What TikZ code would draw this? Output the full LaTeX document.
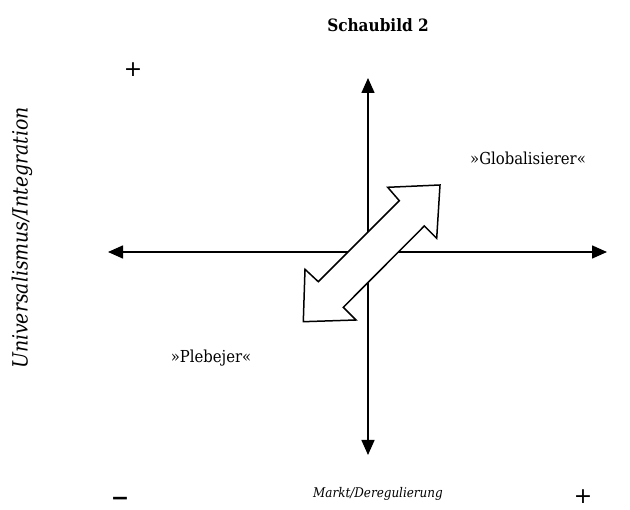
\documentclass[tikz,border=0pt]{standalone}
\usepackage{fontspec}
\setmainfont{DejaVu Serif Condensed}
\setsansfont{DejaVu Sans}
\usetikzlibrary{arrows.meta}
\begin{document}
\begin{tikzpicture}[x=1pt,y=-1pt]
\tikzstyle{axis} = [line width=1.5pt, {Triangle[length=15pt,width=13pt]}-{Triangle[length=15pt,width=13pt]}]
\tikzstyle{label} = [font=\fontsize{16.5}{19}\selectfont]
\tikzstyle{sign} = [font=\fontsize{22}{24}\selectfont\sffamily]
\useasboundingbox (0,0) rectangle (630,510);
\node (title)[font=\fontsize{17}{20}\selectfont\bfseries] at (378,25) {Schaubild 2};
\coordinate (top) at (368,78);
\coordinate (bottom) at (368,455);
\coordinate (left) at (108,252);
\coordinate (right) at (607,252);
\draw [axis] (top) -- (bottom);
\draw [axis] (left) -- (right);
% double arrow
\draw [line width=1.5pt, fill=white] (440,185) -- (387.7,187.3) -- (399.3,200.7) -- (318.3,281.7) -- (305,269.3) -- (303.3,321.7) -- (356,320) -- (343.3,307.3) -- (424.3,226) -- (436.7,238.3) -- cycle;
\node (glob)[label] at (528,158) {»Globalisierer«};
\node (pleb)[label] at (211,358) {»Plebejer«};
\node (markt)[label, font=\fontsize{13.3}{16}\selectfont\itshape] at (378,494) {Markt/Deregulierung};
\node (univ)[label, font=\fontsize{21}{24}\selectfont\itshape, rotate=90] at (22,238) {Universalismus/Integration};
\node (plustop)[sign] at (133,70) {+};
\node (minus)[sign, font=\fontsize{22}{24}\selectfont\sffamily\bfseries] at (120,501) {−};
\node (plusright)[sign] at (583,497) {+};
\end{tikzpicture}
\end{document}
